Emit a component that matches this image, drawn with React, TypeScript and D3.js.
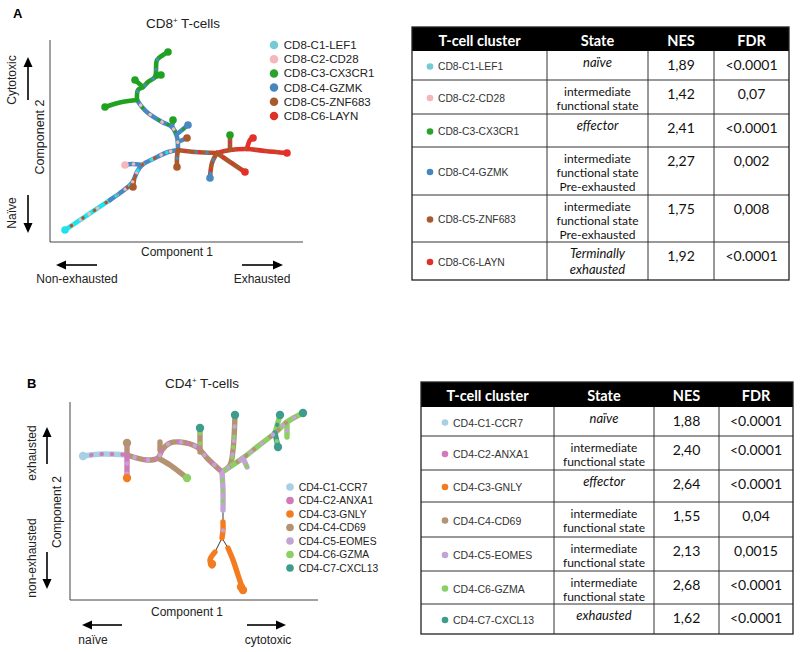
import React from "react";
import * as d3 from "d3";

type Pt = [number, number];
type Branch = { c: number; mix: number[]; pts: Pt[] };
type Tip = { c: number; p: Pt };

// ---------------- Panel A data (CD8) ----------------
const cd8Clusters = ["CD8-C1-LEF1", "CD8-C2-CD28", "CD8-C3-CX3CR1", "CD8-C4-GZMK", "CD8-C5-ZNF683", "CD8-C6-LAYN"];
const cd8LegendColors = ["#74cbd6", "#f5b7ba", "#2aa22c", "#4685bf", "#a65a2e", "#df3128"];
const cd8PlotColors = ["#20e2ee", "#f5b7ba", "#1fa21f", "#4a88c4", "#a85a2c", "#e5302a"];
const cd8States = [["naïve"], ["intermediate", "functional state"], ["effector"], ["intermediate", "functional state", "Pre-exhausted"], ["intermediate", "functional state", "Pre-exhausted"], ["Terminally", "exhausted"]];
const cd8StateItalic = [true, false, true, false, false, true];
const cd8NES = ["1,89", "1,42", "2,41", "2,27", "1,75", "1,92"];
const cd8FDR = ["<0.0001", "0,07", "<0.0001", "0,002", "0,008", "<0.0001"];

const cd8Branches: Branch[] = [
  { c: 0, mix: [1, 4], pts: [[15, 12], [30, 22], [45, 32], [60, 42]] },
  { c: 3, mix: [1, 4, 0], pts: [[60, 42], [70, 49], [82, 59], [87, 70], [92, 77], [105, 84], [118, 90], [128, 92]] },
  { c: 3, mix: [1], pts: [[92, 77], [82, 78], [75, 77]] },
  { c: 4, mix: [], pts: [[84, 62], [83, 55]] },
  { c: 3, mix: [2, 1], pts: [[128, 92], [127, 105], [122, 115], [112, 120], [98, 129], [92, 135], [87, 142]] },
  { c: 2, mix: [3], pts: [[87, 142], [88, 152], [93, 155], [98, 160], [105, 165], [107, 182], [113, 187], [118, 190]] },
  { c: 2, mix: [], pts: [[87, 142], [72, 140], [55, 135]] },
  { c: 2, mix: [], pts: [[93, 155], [85, 162]] },
  { c: 2, mix: [3], pts: [[105, 165], [111, 167]] },
  { c: 3, mix: [2], pts: [[122, 115], [123, 122]] },
  { c: 3, mix: [2], pts: [[127, 108], [132, 112], [138, 117]] },
  { c: 3, mix: [4], pts: [[128, 100], [137, 104]] },
  { c: 4, mix: [3], pts: [[128, 92], [127, 85], [127, 75]] },
  { c: 4, mix: [3, 5], pts: [[128, 92], [145, 90], [167, 89]] },
  { c: 5, mix: [4], pts: [[167, 89], [180, 92], [197, 93], [215, 91], [237, 89]] },
  { c: 4, mix: [3, 5], pts: [[180, 92], [180, 107]] },
  { c: 5, mix: [], pts: [[197, 93], [200, 102], [203, 104]] },
  { c: 4, mix: [5, 3], pts: [[167, 89], [162, 79], [160, 64]] },
  { c: 4, mix: [5], pts: [[167, 89], [180, 80], [195, 70]] },
];
const cd8Tips: Tip[] = [
  { c: 0, p: [15, 12] }, { c: 2, p: [118, 190] }, { c: 5, p: [237, 89] }, { c: 5, p: [195, 70] },
  { c: 2, p: [55, 135] }, { c: 2, p: [85, 162] }, { c: 5, p: [203, 104] }, { c: 2, p: [111, 167] },
  { c: 2, p: [123, 122] }, { c: 3, p: [138, 117] }, { c: 4, p: [137, 104] }, { c: 4, p: [127, 75] },
  { c: 2, p: [180, 107] }, { c: 3, p: [160, 64] }, { c: 1, p: [75, 77] }, { c: 4, p: [83, 55] },
];

// ---------------- Panel B data (CD4) ----------------
const cd4Clusters = ["CD4-C1-CCR7", "CD4-C2-ANXA1", "CD4-C3-GNLY", "CD4-C4-CD69", "CD4-C5-EOMES", "CD4-C6-GZMA", "CD4-C7-CXCL13"];
const cd4Colors = ["#a9cfe3", "#d07ab9", "#f47c20", "#b39372", "#c3a5d5", "#8ccf64", "#3e9c8c"];
const cd4States = [["naïve"], ["intermediate", "functional state"], ["effector"], ["intermediate", "functional state"], ["intermediate", "functional state"], ["intermediate", "functional state"], ["exhausted"]];
const cd4StateItalic = [true, false, true, false, false, false, true];
const cd4NES = ["1,88", "2,40", "2,64", "1,55", "2,13", "2,68", "1,62"];
const cd4FDR = ["<0.0001", "<0.0001", "<0.0001", "0,04", "0,0015", "<0.0001", "<0.0001"];

const cd4Branches: Branch[] = [
  { c: 0, mix: [1], pts: [[13, 144], [33, 146], [57, 145]] },
  { c: 3, mix: [1, 4], pts: [[57, 145], [77, 140], [88, 142], [92, 150], [100, 157], [110, 158], [127, 153], [137, 142], [152, 128]] },
  { c: 3, mix: [1], pts: [[57, 145], [57, 157]] },
  { c: 1, mix: [4], pts: [[57, 145], [57, 123]] },
  { c: 3, mix: [], pts: [[88, 142], [100, 135], [117, 122]] },
  { c: 3, mix: [1], pts: [[90, 150], [90, 158]] },
  { c: 3, mix: [5], pts: [[130, 148], [130, 172]] },
  { c: 3, mix: [5, 4], pts: [[152, 128], [160, 135], [163, 150], [165, 185]] },
  { c: 5, mix: [3, 4], pts: [[152, 128], [173, 142], [187, 153], [205, 167], [217, 178], [233, 187]] },
  { c: 5, mix: [6], pts: [[205, 167], [210, 185]] },
  { c: 6, mix: [5], pts: [[205, 167], [208, 153]] },
  { c: 5, mix: [4], pts: [[217, 178], [217, 163]] },
  { c: 4, mix: [5], pts: [[173, 142], [177, 133]] },
  { c: 4, mix: [5], pts: [[152, 128], [153, 110], [153, 90]] },
  { c: 2, mix: [4], pts: [[153, 78], [153, 70], [152, 62]] },
  { c: 2, mix: [], pts: [[145, 48], [140, 40], [142, 34]] },
  { c: 2, mix: [], pts: [[158, 52], [163, 40], [168, 25], [173, 10]] },
];
const cd4Edges: Pt[][] = [
  [[153, 90], [153, 78]],
  [[152, 62], [145, 48]],
  [[152, 62], [158, 52]],
];
const cd4Tips: Tip[] = [
  { c: 0, p: [13, 144] }, { c: 6, p: [233, 187] }, { c: 6, p: [165, 185] }, { c: 6, p: [130, 172] },
  { c: 2, p: [142, 36] }, { c: 2, p: [171, 13] }, { c: 2, p: [57, 122] }, { c: 5, p: [117, 122] },
  { c: 6, p: [210, 185] }, { c: 6, p: [208, 153] }, { c: 2, p: [173, 10] }, { c: 3, p: [57, 157] },
];

const SANS = "'Liberation Sans', Arial, sans-serif";
const TABLE_FONT = "Lato, 'Open Sans', sans-serif";

function Arrow({ x1, y1, x2, y2 }: { x1: number; y1: number; x2: number; y2: number }) {
  const a = Math.atan2(y2 - y1, x2 - x1);
  const L = 10, W = 4.5;
  const bx = x2 - L * Math.cos(a), by = y2 - L * Math.sin(a);
  const px = -Math.sin(a) * W, py = Math.cos(a) * W;
  return (
    <g>
      <line x1={x1} y1={y1} x2={bx} y2={by} stroke="#000" strokeWidth={1.6} />
      <path d={`M${x2},${y2}L${bx + px},${by + py}L${bx - px},${by - py}Z`} fill="#000" />
    </g>
  );
}

function Trajectory(props: {
  branches: Branch[]; tips: Tip[]; colors: string[]; edges?: Pt[][];
  xDomain: [number, number]; yDomain: [number, number]; xRange: [number, number]; yRange: [number, number];
  width: number; tipR: number;
}) {
  const { branches, tips, colors, edges, width, tipR } = props;
  const x = d3.scaleLinear().domain(props.xDomain).range(props.xRange);
  const y = d3.scaleLinear().domain(props.yDomain).range(props.yRange);
  const line = d3.line<Pt>().x(d => x(d[0])).y(d => y(d[1])).curve(d3.curveCatmullRom.alpha(0.5));
  return (
    <g>
      {(edges || []).map((e, i) => (
        <path key={"e" + i} d={line(e) || ""} stroke="#222" strokeWidth={0.9} fill="none" />
      ))}
      {branches.map((b, i) => (
        <path key={"b" + i} d={line(b.pts) || ""} stroke={colors[b.c]} strokeWidth={width}
          strokeLinecap="round" strokeLinejoin="round" fill="none" />
      ))}
      {branches.map((b, i) =>
        b.mix.map((m, j) => (
          <path key={"m" + i + "-" + j} d={line(b.pts) || ""} stroke={colors[m]} strokeWidth={width - 1.2}
            strokeLinecap="round"
            strokeDasharray={`0.3 ${10 + j * 3.5}`} strokeDashoffset={j * 4.1 + 2} fill="none" />
        ))
      )}
      {tips.map((t, i) => (
        <circle key={"t" + i} cx={x(t.p[0])} cy={y(t.p[1])} r={tipR} fill={colors[t.c]} />
      ))}
    </g>
  );
}

function Legend({ labels, colors, x, y, step, size }: { labels: string[]; colors: string[]; x: number; y: number; step: number; size: number }) {
  return (
    <g fontFamily={SANS} fontSize={size} fill="#222">
      {labels.map((l, i) => (
        <g key={l}>
          <circle cx={x} cy={y + i * step} r={size * 0.37} fill={colors[i]} />
          <text x={x + size * 0.85} y={y + i * step} dominantBaseline="central">{l}</text>
        </g>
      ))}
    </g>
  );
}

function Table(props: {
  x0: number; cols: number[]; x1: number; headTop: number; rows: number[];
  clusters: string[]; colors: string[]; states: string[][]; italic: boolean[]; nes: string[]; fdr: string[];
  dotDx: number; labelSize: number;
}) {
  const { x0, cols, x1, headTop, rows, clusters, colors, states, italic, nes, fdr, dotDx, labelSize } = props;
  const edges = [x0, ...cols, x1];
  const centers = edges.slice(0, -1).map((e, i) => (e + edges[i + 1]) / 2);
  const headBottom = rows[0];
  const headers = ["T-cell cluster", "State", "NES", "FDR"];
  return (
    <g>
      <rect x={x0} y={headTop} width={x1 - x0} height={headBottom - headTop} fill="#000" />
      {headers.map((h, i) => (
        <text key={h} x={centers[i]} y={(headTop + headBottom) / 2 + 1} textAnchor="middle" dominantBaseline="central"
          fontFamily={TABLE_FONT} fontWeight={700} fontSize={14.5} fill="#fff">{h}</text>
      ))}
      {clusters.map((c, i) => {
        const top = rows[i], bot = rows[i + 1];
        const mid = (top + bot) / 2;
        const lh = italic[i] ? 16 : 14;
        return (
          <g key={c}>
            <circle cx={x0 + dotDx} cy={mid + 1} r={3.3} fill={colors[i]} />
            <text x={x0 + dotDx + 8} y={mid + 1} dominantBaseline="central" fontFamily={SANS} fontSize={labelSize} fill="#333">{c}</text>
            {states[i].map((s, k) => (
              <text key={k} x={centers[1]} y={top + 11 + k * lh} textAnchor="middle" dominantBaseline="central"
                fontFamily={TABLE_FONT} fontSize={italic[i] ? 13 : 12} fontStyle={italic[i] ? "italic" : "normal"} fill="#111">{s}</text>
            ))}
            <text x={centers[2]} y={top + 13} textAnchor="middle" dominantBaseline="central" fontFamily={TABLE_FONT} fontSize={14} fill="#111">{nes[i]}</text>
            <text x={centers[3]} y={top + 13} textAnchor="middle" dominantBaseline="central" fontFamily={TABLE_FONT} fontSize={14} fill="#111">{fdr[i]}</text>
          </g>
        );
      })}
      {rows.slice(1, -1).map((r, i) => (
        <line key={"h" + i} x1={x0} x2={x1} y1={r} y2={r} stroke="#333" strokeWidth={1} />
      ))}
      {cols.map((c, i) => (
        <line key={"v" + i} x1={c} x2={c} y1={headBottom} y2={rows[rows.length - 1]} stroke="#333" strokeWidth={1} />
      ))}
      <rect x={x0} y={headTop} width={x1 - x0} height={rows[rows.length - 1] - headTop} fill="none" stroke="#222" strokeWidth={1.3} />
    </g>
  );
}

export default function App() {
  return (
    <div style={{ position: "absolute", left: 0, top: 0 }}>
      <svg width={800} height={652} viewBox="0 0 800 652" style={{ display: "block", background: "#fff" }}>
        {/* ---------- Panel A ---------- */}
        <text x={13} y={18} fontFamily={SANS} fontWeight={700} fontSize={13}>A</text>
        <text x={183} y={28} textAnchor="middle" fontFamily={SANS} fontSize={13.5} fill="#222">
          CD8<tspan dy={-5} fontSize={8}>+</tspan><tspan dy={5}> T-cells</tspan>
        </text>
        <line x1={50} y1={40} x2={50} y2={242} stroke="#444" strokeWidth={1} />
        <line x1={50} y1={242} x2={303} y2={242} stroke="#444" strokeWidth={1} />
        <Trajectory branches={cd8Branches} tips={cd8Tips} colors={cd8PlotColors}
          xDomain={[0, 253]} yDomain={[0, 202]} xRange={[50, 303]} yRange={[242, 40]} width={4.6} tipR={3.8} />
        <Legend labels={cd8Clusters} colors={cd8LegendColors} x={274} y={45} step={14.2} size={11.5} />
        <text transform="translate(44,137) rotate(-90)" textAnchor="middle" fontFamily={SANS} fontSize={12.5} fill="#222">Component 2</text>
        <text transform="translate(16,80) rotate(-90)" textAnchor="middle" fontFamily={SANS} fontSize={12} fill="#222">Cytotoxic</text>
        <text transform="translate(16,213) rotate(-90)" textAnchor="middle" fontFamily={SANS} fontSize={12} fill="#222">Naïve</text>
        <Arrow x1={28} y1={100} x2={28} y2={57} />
        <Arrow x1={28} y1={195} x2={28} y2={233} />
        <text x={177} y={256} textAnchor="middle" fontFamily={SANS} fontSize={12} fill="#222">Component 1</text>
        <Arrow x1={97} y1={265} x2={56} y2={265} />
        <Arrow x1={242} y1={265} x2={283} y2={265} />
        <text x={77} y={283} textAnchor="middle" fontFamily={SANS} fontSize={12} fill="#222">Non-exhausted</text>
        <text x={262} y={283} textAnchor="middle" fontFamily={SANS} fontSize={12} fill="#222">Exhausted</text>

        <Table x0={412} cols={[547, 648, 714]} x1={789} headTop={27} rows={[51, 80, 114, 147, 195, 242, 280]}
          clusters={cd8Clusters} colors={cd8LegendColors} states={cd8States} italic={cd8StateItalic}
          nes={cd8NES} fdr={cd8FDR} dotDx={18} labelSize={10.3} />

        {/* ---------- Panel B ---------- */}
        <text x={27} y={388} fontFamily={SANS} fontWeight={700} fontSize={13}>B</text>
        <text x={202} y={388} textAnchor="middle" fontFamily={SANS} fontSize={13.5} fill="#222">
          CD4<tspan dy={-5} fontSize={8}>+</tspan><tspan dy={5}> T-cells</tspan>
        </text>
        <line x1={70} y1={402} x2={70} y2={600} stroke="#444" strokeWidth={1} />
        <line x1={70} y1={600} x2={318} y2={600} stroke="#444" strokeWidth={1} />
        <Trajectory branches={cd4Branches} tips={cd4Tips} colors={cd4Colors} edges={cd4Edges}
          xDomain={[0, 248]} yDomain={[0, 198]} xRange={[70, 318]} yRange={[600, 402]} width={5.4} tipR={4.2} />
        <Legend labels={cd4Clusters} colors={cd4Colors} x={290} y={487} step={13.5} size={10.3} />
        <text transform="translate(61,512) rotate(-90)" textAnchor="middle" fontFamily={SANS} fontSize={12} fill="#222">Component 2</text>
        <text transform="translate(36,453) rotate(-90)" textAnchor="middle" fontFamily={SANS} fontSize={12} fill="#222">exhausted</text>
        <text transform="translate(36,558) rotate(-90)" textAnchor="middle" fontFamily={SANS} fontSize={12} fill="#222">non-exhausted</text>
        <Arrow x1={47} y1={464} x2={47} y2={427} />
        <Arrow x1={47} y1={552} x2={47} y2={589} />
        <text x={187} y={616} textAnchor="middle" fontFamily={SANS} fontSize={12} fill="#222">Component 1</text>
        <Arrow x1={122} y1={625} x2={82} y2={625} />
        <Arrow x1={247} y1={625} x2={286} y2={625} />
        <text x={93} y={644} textAnchor="middle" fontFamily={SANS} fontSize={12} fill="#222">naïve</text>
        <text x={268} y={644} textAnchor="middle" fontFamily={SANS} fontSize={12} fill="#222">cytotoxic</text>

        <Table x0={421} cols={[554, 654, 719]} x1={793} headTop={382} rows={[407, 436, 470, 502, 537, 571, 604, 634]}
          clusters={cd4Clusters} colors={cd4Colors} states={cd4States} italic={cd4StateItalic}
          nes={cd4NES} fdr={cd4FDR} dotDx={24} labelSize={10.5} />
      </svg>
    </div>
  );
}
